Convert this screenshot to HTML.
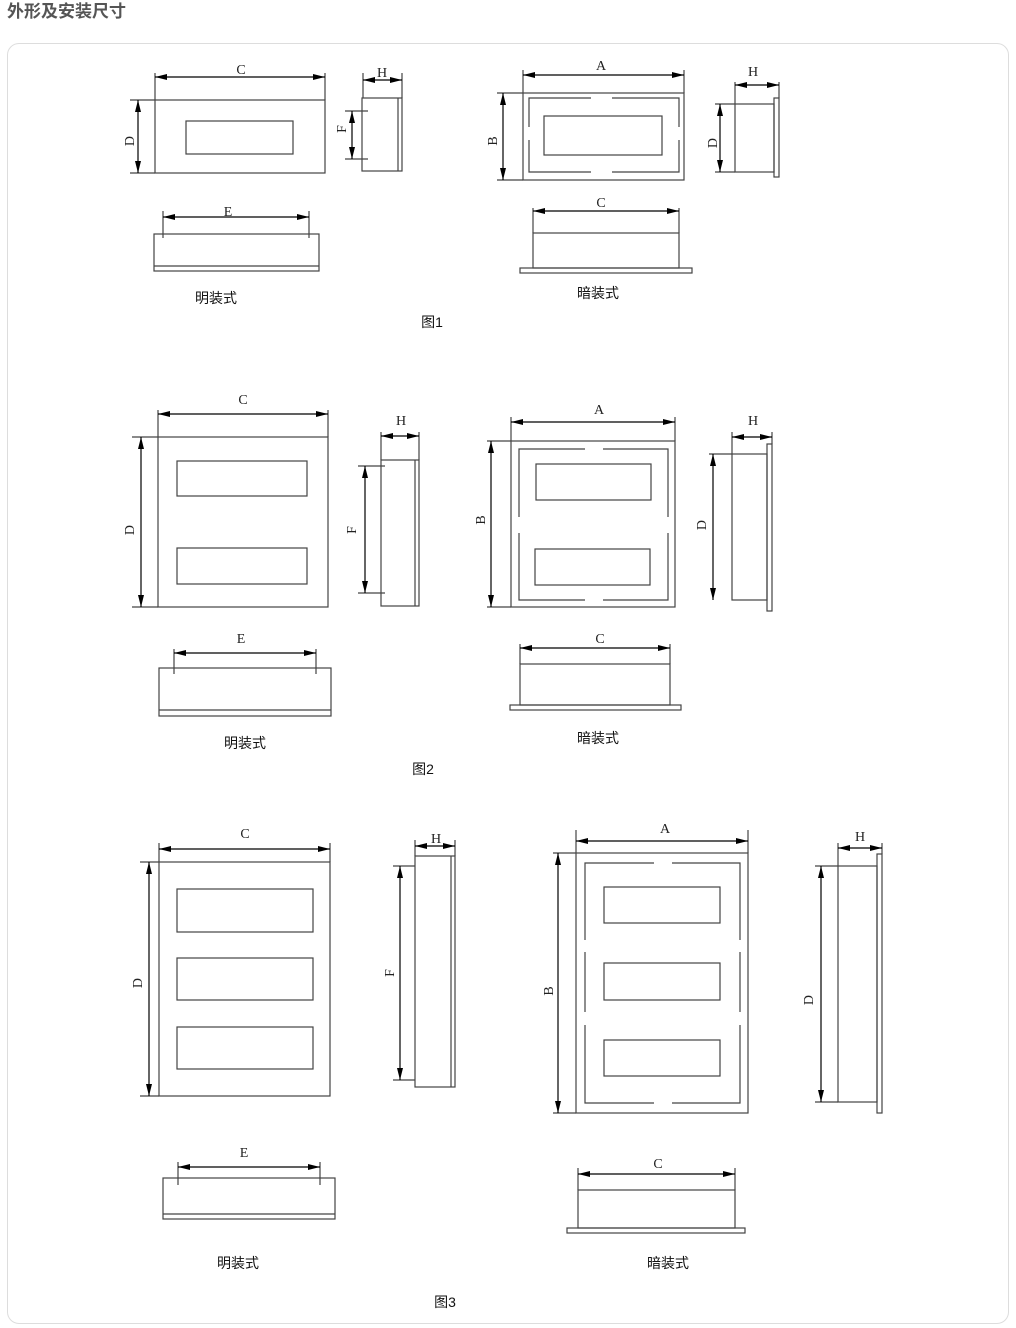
<!DOCTYPE html>
<html><head><meta charset="utf-8"><style>
html,body{margin:0;padding:0;background:#fff;}
body{width:1016px;height:1328px;position:relative;overflow:hidden;font-family:"Liberation Sans","Noto Sans CJK SC",sans-serif;}
.title{position:absolute;left:7px;top:0px;font-size:17px;font-weight:bold;color:#555;line-height:24px;}
.box{position:absolute;left:7px;top:43px;width:1000px;height:1279px;border:1px solid #ddd;border-radius:12px;}
svg{position:absolute;left:0;top:0;}
</style></head><body>
<div class="title">外形及安装尺寸</div>
<div class="box"></div>
<svg width="1016" height="1328" viewBox="0 0 1016 1328">
<defs>
<marker id="a" viewBox="0 0 12 6" refX="12" refY="3" markerWidth="12" markerHeight="6" markerUnits="userSpaceOnUse" orient="auto-start-reverse"><path d="M0,0L12,3L0,6z" fill="#000"/></marker>
</defs>
<g fill="none" stroke="#444" stroke-width="1.2">
<rect x="155" y="100" width="170" height="73"/>
<rect x="186" y="121" width="107" height="33"/>
<line x1="155" y1="73" x2="155" y2="100"/><line x1="325" y1="73" x2="325" y2="100"/>
<line x1="130" y1="100" x2="155" y2="100"/><line x1="130" y1="173" x2="155" y2="173"/>
<rect x="362" y="98" width="40" height="73"/><line x1="398" y1="98" x2="398" y2="171"/>
<line x1="363" y1="73" x2="363" y2="98"/><line x1="402" y1="73" x2="402" y2="98"/>
<line x1="345" y1="111" x2="368" y2="111"/><line x1="345" y1="159" x2="368" y2="159"/>
<rect x="154" y="234" width="165" height="37"/><line x1="154" y1="266" x2="319" y2="266"/>
<line x1="163" y1="211" x2="163" y2="238"/><line x1="309" y1="211" x2="309" y2="238"/>
<rect x="523" y="93" width="161" height="87"/>
<line x1="523" y1="70" x2="523" y2="93"/><line x1="684" y1="70" x2="684" y2="93"/>
<line x1="497" y1="93" x2="523" y2="93"/><line x1="497" y1="180" x2="523" y2="180"/>
<path d="M591,98H529V127M529,140V172H591M612,172H679V140M679,127V98H612"/>
<rect x="544" y="116" width="118" height="39"/>
<rect x="735" y="104" width="39" height="68"/><rect x="774" y="98" width="5" height="79"/>
<line x1="735" y1="82" x2="735" y2="104"/><line x1="779" y1="82" x2="779" y2="98"/>
<line x1="715" y1="104" x2="735" y2="104"/><line x1="715" y1="172" x2="735" y2="172"/>
<rect x="533" y="233" width="146" height="35"/><rect x="520" y="268" width="172" height="5"/>
<line x1="533" y1="208" x2="533" y2="233"/><line x1="679" y1="208" x2="679" y2="233"/>
<rect x="158" y="437" width="170" height="170"/>
<rect x="177" y="461" width="130" height="35"/><rect x="177" y="548" width="130" height="36"/>
<line x1="158" y1="410" x2="158" y2="437"/><line x1="328" y1="410" x2="328" y2="437"/>
<line x1="132" y1="437" x2="158" y2="437"/><line x1="132" y1="607" x2="158" y2="607"/>
<rect x="381" y="460" width="38" height="146"/><line x1="415" y1="460" x2="415" y2="606"/>
<line x1="381" y1="432" x2="381" y2="460"/><line x1="419" y1="432" x2="419" y2="460"/>
<line x1="358" y1="466" x2="385" y2="466"/><line x1="358" y1="593" x2="385" y2="593"/>
<rect x="159" y="668" width="172" height="48"/><line x1="159" y1="710" x2="331" y2="710"/>
<line x1="174" y1="649" x2="174" y2="674"/><line x1="316" y1="649" x2="316" y2="674"/>
<rect x="511" y="441" width="164" height="166"/>
<line x1="511" y1="417" x2="511" y2="441"/><line x1="675" y1="417" x2="675" y2="441"/>
<line x1="487" y1="441" x2="511" y2="441"/><line x1="487" y1="607" x2="511" y2="607"/>
<path d="M585,449H519V517M519,533V600H585M603,600H668V533M668,517V449H603"/>
<rect x="536" y="464" width="115" height="36"/><rect x="535" y="549" width="115" height="36"/>
<rect x="732" y="454" width="35" height="146"/><rect x="767" y="444" width="5" height="167"/>
<line x1="732" y1="432" x2="732" y2="454"/><line x1="772" y1="432" x2="772" y2="444"/>
<line x1="709" y1="454" x2="732" y2="454"/>
<rect x="520" y="664" width="150" height="41"/><rect x="510" y="705" width="171" height="5"/>
<line x1="520" y1="644" x2="520" y2="664"/><line x1="670" y1="644" x2="670" y2="664"/>
<rect x="159" y="862" width="171" height="234"/>
<rect x="177" y="889" width="136" height="43"/><rect x="177" y="958" width="136" height="42"/><rect x="177" y="1027" width="136" height="42"/>
<line x1="159" y1="843" x2="159" y2="862"/><line x1="330" y1="843" x2="330" y2="862"/>
<line x1="140" y1="862" x2="159" y2="862"/><line x1="140" y1="1096" x2="159" y2="1096"/>
<rect x="415" y="856" width="40" height="231"/><line x1="451" y1="856" x2="451" y2="1087"/>
<line x1="415" y1="840" x2="415" y2="856"/><line x1="455" y1="840" x2="455" y2="856"/>
<line x1="393" y1="866" x2="415" y2="866"/><line x1="393" y1="1080" x2="415" y2="1080"/>
<rect x="163" y="1178" width="172" height="41"/><line x1="163" y1="1214" x2="335" y2="1214"/>
<line x1="178" y1="1162" x2="178" y2="1185"/><line x1="320" y1="1162" x2="320" y2="1185"/>
<rect x="576" y="853" width="172" height="260"/>
<line x1="576" y1="830" x2="576" y2="853"/><line x1="748" y1="830" x2="748" y2="853"/>
<line x1="553" y1="853" x2="576" y2="853"/><line x1="553" y1="1113" x2="576" y2="1113"/>
<path d="M654,863H585V940M585,952V1012M585,1025V1103H654M672,1103H740V1025M740,1012V952M740,940V863H672"/>
<rect x="604" y="887" width="116" height="36"/><rect x="604" y="963" width="116" height="37"/><rect x="604" y="1040" width="116" height="36"/>
<rect x="838" y="866" width="39" height="236"/><rect x="877" y="854" width="5" height="259"/>
<line x1="838" y1="843" x2="838" y2="866"/><line x1="882" y1="843" x2="882" y2="854"/>
<line x1="815" y1="866" x2="838" y2="866"/><line x1="815" y1="1102" x2="838" y2="1102"/>
<rect x="578" y="1190" width="157" height="38"/><rect x="567" y="1228" width="178" height="5"/>
<line x1="578" y1="1168" x2="578" y2="1190"/><line x1="735" y1="1168" x2="735" y2="1190"/>
</g>
<g stroke="#000" stroke-width="1.2" marker-start="url(#a)" marker-end="url(#a)">
<line x1="155" y1="77" x2="325" y2="77"/><line x1="138" y1="100" x2="138" y2="173"/>
<line x1="363" y1="80" x2="402" y2="80"/><line x1="352" y1="111" x2="352" y2="159"/>
<line x1="163" y1="217" x2="309" y2="217"/>
<line x1="523" y1="75" x2="684" y2="75"/><line x1="503" y1="93" x2="503" y2="180"/>
<line x1="735" y1="85" x2="779" y2="85"/><line x1="720" y1="104" x2="720" y2="172"/>
<line x1="533" y1="211" x2="679" y2="211"/>
<line x1="158" y1="414" x2="328" y2="414"/><line x1="141" y1="437" x2="141" y2="607"/>
<line x1="381" y1="436" x2="419" y2="436"/><line x1="365" y1="466" x2="365" y2="593"/>
<line x1="174" y1="653" x2="316" y2="653"/>
<line x1="511" y1="422" x2="675" y2="422"/><line x1="491" y1="441" x2="491" y2="607"/>
<line x1="732" y1="437" x2="772" y2="437"/><line x1="713" y1="454" x2="713" y2="600"/>
<line x1="520" y1="648" x2="670" y2="648"/>
<line x1="159" y1="849" x2="330" y2="849"/><line x1="149" y1="862" x2="149" y2="1096"/>
<line x1="415" y1="846" x2="455" y2="846"/><line x1="400" y1="866" x2="400" y2="1080"/>
<line x1="178" y1="1167" x2="320" y2="1167"/>
<line x1="576" y1="841" x2="748" y2="841"/><line x1="558" y1="853" x2="558" y2="1113"/>
<line x1="838" y1="848" x2="882" y2="848"/><line x1="821" y1="866" x2="821" y2="1102"/>
<line x1="578" y1="1174" x2="735" y2="1174"/>
</g>
<g font-family="Liberation Serif,serif" font-size="14" fill="#222" text-anchor="middle">
<text x="241" y="74">C</text><text x="382" y="77">H</text><text x="228" y="216">E</text>
<text x="601" y="70">A</text><text x="753" y="76">H</text><text x="601" y="207">C</text>
<text x="243" y="404">C</text><text x="401" y="425">H</text><text x="241" y="643">E</text>
<text x="599" y="414">A</text><text x="753" y="425">H</text><text x="600" y="643">C</text>
<text x="245" y="838">C</text><text x="436" y="843">H</text><text x="244" y="1157">E</text>
<text x="665" y="833">A</text><text x="860" y="841">H</text><text x="658" y="1168">C</text>
<text transform="translate(134,141) rotate(-90)">D</text>
<text transform="translate(346,129) rotate(-90)">F</text>
<text transform="translate(497,141) rotate(-90)">B</text>
<text transform="translate(717,143) rotate(-90)">D</text>
<text transform="translate(134,530) rotate(-90)">D</text>
<text transform="translate(356,530) rotate(-90)">F</text>
<text transform="translate(485,520) rotate(-90)">B</text>
<text transform="translate(706,525) rotate(-90)">D</text>
<text transform="translate(142,983) rotate(-90)">D</text>
<text transform="translate(394,973) rotate(-90)">F</text>
<text transform="translate(553,991) rotate(-90)">B</text>
<text transform="translate(813,1000) rotate(-90)">D</text>
</g>
<g font-family="Liberation Sans,Noto Sans CJK SC,sans-serif" font-size="14" fill="#111" text-anchor="middle">
<text x="216" y="303">明装式</text><text x="598" y="298">暗装式</text><text x="432" y="327">图1</text>
<text x="245" y="748">明装式</text><text x="598" y="743">暗装式</text><text x="423" y="774">图2</text>
<text x="238" y="1268">明装式</text><text x="668" y="1268">暗装式</text><text x="445" y="1307">图3</text>
</g>
</svg>
</body></html>
